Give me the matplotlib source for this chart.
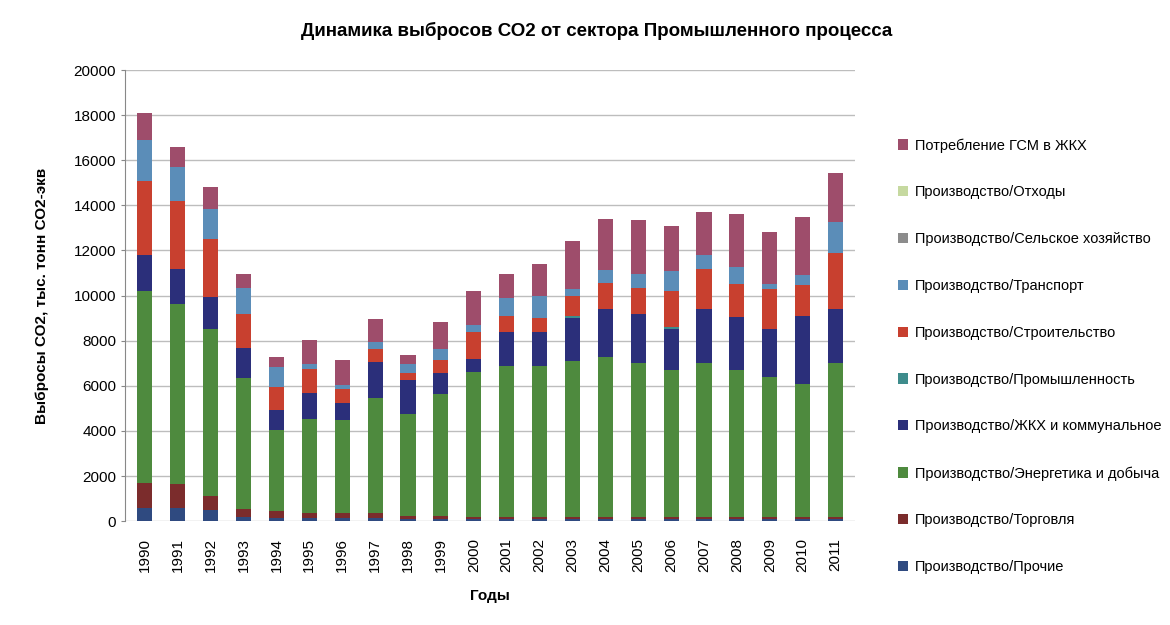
import numpy as np
import matplotlib
matplotlib.use("Agg")
from matplotlib import pyplot as plt

plt.rcParams['font.family'] = ['Liberation Sans', 'DejaVu Sans']

years = [str(y) for y in range(1990, 2012)]

# series from bottom of the stack to the top, values in t CO2 (thousands)
s_fuel_other = [600, 600, 500, 200, 150, 150, 150, 150, 100, 100, 100,
                100, 100, 100, 100, 100, 100, 100, 100, 100, 100, 100]
s_trade = [1100, 1050, 600, 350, 300, 200, 200, 200, 150, 150, 100,
           100, 100, 100, 100, 100, 100, 100, 100, 100, 100, 100]
s_energy = [8500, 8000, 7400, 5800, 3600, 4200, 4150, 5100, 4500, 5400, 6400,
            6700, 6700, 6900, 7100, 6800, 6500, 6800, 6500, 6200, 5900, 6800]
s_housing = [1600, 1550, 1450, 1350, 900, 1150, 750, 1600, 1500, 900, 600,
             1500, 1500, 1900, 2100, 2200, 1800, 2400, 2350, 2100, 3000, 2400]
s_industry = [0, 0, 0, 0, 0, 0, 0, 0, 0, 0, 0,
              0, 0, 100, 0, 0, 100, 0, 0, 0, 0, 0]
s_building = [3300, 3000, 2550, 1500, 1000, 1050, 600, 600, 300, 600, 1200,
              700, 600, 900, 1150, 1150, 1600, 1800, 1450, 1800, 1350, 2500]
s_transport = [1800, 1500, 1350, 1150, 900, 200, 200, 300, 400, 500, 300,
               800, 1000, 300, 600, 600, 900, 600, 750, 200, 450, 1350]
s_agri = [0, 0, 0, 0, 0, 0, 0, 0, 0, 0, 0,
          0, 0, 0, 0, 0, 0, 0, 0, 0, 0, 0]
s_waste = [0, 0, 0, 0, 0, 0, 0, 0, 0, 0, 0,
           0, 0, 0, 0, 0, 0, 0, 0, 0, 0, 0]
s_gsm = [1200, 900, 950, 600, 450, 1100, 1100, 1000, 400, 1200, 1500,
         1050, 1400, 2100, 2250, 2400, 2000, 1900, 2350, 2300, 2600, 2200]

series = [s_fuel_other, s_trade, s_energy, s_housing, s_industry,
          s_building, s_transport, s_agri, s_waste, s_gsm]
labels = [
    "Производство/Прочие",
    "Производство/Торговля",
    "Производство/Энергетика и добыча",
    "Производство/ЖКХ и коммунальное",
    "Производство/Промышленность",
    "Производство/Строительство",
    "Производство/Транспорт",
    "Производство/Сельское хозяйство",
    "Производство/Отходы",
    "Потребление ГСМ в ЖКХ",
]
colors = ['#2F4A80', '#7B2C2C', '#4E8A3E', '#2B2F7A', '#3E8C8C',
          '#C8402F', '#5B8DB8', '#8C8C8C', '#C6D9A0', '#9E4D6B']

fig = plt.figure(figsize=(11.7, 6.25), dpi=100)
ax = fig.add_axes([0.107, 0.166, 0.624, 0.722])

x = np.arange(len(years))
bottom = np.zeros(len(years))
handles = []
for vals, lab, col in zip(series, labels, colors):
    b = ax.bar(x, vals, 0.46, bottom=bottom, color=col, label=lab)
    handles.append(b)
    bottom += np.array(vals)

ax.set_ylim(0, 20000)
ax.set_yticks(np.arange(0, 20001, 2000))
ax.set_xlim(-0.6, len(years) - 0.4)
ax.set_xticks(x)
ax.set_xticklabels(years, rotation=90, fontsize=11)
ax.tick_params(axis='y', labelsize=11, length=3, color='#888888')
ax.tick_params(axis='x', length=0, pad=12)
ax.yaxis.grid(True, color='#bdbdbd', linewidth=1)
ax.set_axisbelow(True)
for side in ['top', 'right', 'bottom']:
    ax.spines[side].set_visible(False)
ax.spines['left'].set_color('#888888')

fig.suptitle("Динамика выбросов СО2 от сектора Промышленного процесса",
             x=0.51, y=0.965, fontsize=13.5, fontweight='bold')
ax.set_ylabel("Выбросы СО2, тыс. тонн СО2-экв", fontsize=11,
              fontweight='bold', labelpad=18)
ax.set_xlabel("Годы", fontsize=11, fontweight='bold', labelpad=12)

fig.legend(handles[::-1], labels[::-1], loc='upper left',
           bbox_to_anchor=(0.756, 0.80), frameon=False, fontsize=10.5,
           handlelength=0.7, handleheight=0.7, labelspacing=2.25,
           handletextpad=0.5)

fig.savefig("out.png", dpi=100)
